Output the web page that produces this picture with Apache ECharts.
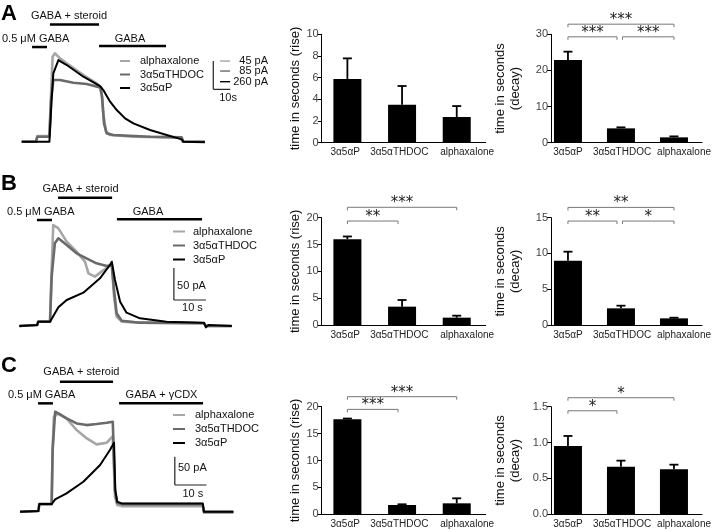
<!DOCTYPE html>
<html><head><meta charset="utf-8">
<script src="https://cdn.jsdelivr.net/npm/echarts@6/dist/echarts.min.js"></script>
<style>html,body{margin:0;padding:0;background:#fff}#c{width:714px;height:530px}</style>
</head><body><div id="c"></div>
<script>
// ---------------- DATA ----------------
const steroids = ['alphaxalone', '3α5αTHDOC', '3α5αP'];        // legend / trace order
const barCats  = ['3α5αP', '3α5αTHDOC', 'alphaxalone'];        // bar chart categories

// Row A (time in seconds)
const riseA      = [5.88, 3.51, 2.37];
const riseAErr   = [1.90, 1.72, 1.01];
const decayA     = [22.9, 3.97, 1.48];
const decayAErr  = [2.3, 0.28, 0.27];
// Row B
const riseB      = [16.0, 3.42, 1.37];
const riseBErr   = [0.5, 1.24, 0.37];
const decayB     = [8.99, 2.33, 0.93];
const decayBErr  = [1.26, 0.37, 0.09];
// Row C
const riseC      = [17.65, 1.73, 2.04];
const riseCErr   = [0.15, 0.13, 0.93];
const decayC     = [0.952, 0.664, 0.627];
const decayCErr  = [0.14, 0.084, 0.065];

// significance comparisons [from, to, label]
const sigRiseA  = [];
const sigDecayA = [[0, 2, '***'], [0, 1, '***'], [1, 2, '***']];
const sigRiseB  = [[0, 2, '***'], [0, 1, '**']];
const sigDecayB = [[0, 2, '**'], [0, 1, '**'], [1, 2, '*']];
const sigRiseC  = [[0, 2, '***'], [0, 1, '***']];
const sigDecayC = [[0, 2, '*'], [0, 1, '*']];

// y tick steps
const riseATicks = 2, decayATicks = 10, riseBTicks = 5, decayBTicks = 5, riseCTicks = 5, decayCTicks = 0.5;

// current traces [time s, current] (A normalised, B/C pA)
const traceA_alpha = [[0,0],[8.4,0],[9.2,17],[16.3,17],[17.1,125],[18.2,255],[19.6,265],[22.5,250],[26.5,235],[36.3,200],[44.1,175],[46.7,163],[48.0,85],[49.6,30],[52.0,20],[65.7,15],[93.1,13],[94.7,0],[107.8,0]];
const traceA_thdoc = [[0,0],[8.4,0],[9.2,15],[16.3,15],[17.3,125],[18.6,185],[22.5,185],[30.4,177],[38.2,173],[46.1,163],[47.3,135],[48.4,55],[50.0,25],[53.9,20],[75.5,15],[94.1,13],[95.1,0],[107.8,0]];
const traceA_p     = [[0,0],[16.3,0],[17.6,125],[18.6,205],[21.6,245],[26.5,230],[36.3,195],[46.1,167],[48.0,155],[52.0,120],[55.9,95],[60.8,70],[65.7,55],[75.5,35],[85.3,20],[94.1,7],[95.1,0],[107.8,-2]];

const traceB_alpha = [[0,0],[5.6,1.6],[5.9,6.8],[9.6,6.8],[10.1,87.5],[10.6,157.8],[12.2,152.6],[14.8,131.8],[17.9,116.1],[20.5,100.5],[21.6,82.3],[23.6,77.1],[25.7,84.9],[27.8,92.7],[28.9,95.3],[29.6,45.8],[30.4,14.6],[32.0,6.8],[37.7,5.2],[57.7,4.2],[58.3,0],[66.4,0]];
const traceB_thdoc = [[0,0],[5.6,1.6],[5.9,6.8],[9.6,6.8],[10.1,77.1],[11.1,129.2],[12.2,137.0],[14.8,126.6],[17.9,113.5],[21.0,105.7],[24.1,97.9],[27.3,93.7],[28.9,95.3],[29.6,56.3],[30.4,19.8],[32.0,8.3],[37.7,5.2],[57.7,4.2],[58.3,0],[66.4,0]];
const traceB_p     = [[0,0],[5.6,1.6],[5.9,6.8],[9.6,6.8],[12.2,29.2],[14.8,40.6],[20.0,52.1],[25.2,74.5],[28.3,95.3],[28.9,100.5],[29.9,71.9],[31.5,38.0],[33.5,20.8],[37.7,12.0],[46.0,6.8],[57.7,5.2],[58.3,-2.1],[59.1,1.6],[66.4,0]];

const traceC_alpha = [[0,0],[5.8,1.2],[6.1,13.5],[10.0,13.5],[10.3,109.0],[10.7,167.9],[12.1,173.8],[14.7,164.9],[17.9,144.3],[21.1,129.6],[24.2,119.0],[27.4,121.9],[29.3,133.7],[30.0,26.5],[30.7,11.8],[32.1,10.0],[57.7,10.0],[58.1,-1.8],[67.4,-1.8]];
const traceC_thdoc = [[0,0],[5.8,1.2],[6.1,13.5],[10.0,13.5],[10.3,109.0],[11.1,176.7],[14.7,164.9],[17.9,156.0],[21.1,153.1],[24.2,154.9],[27.4,157.3],[29.3,159.0],[30.0,38.3],[30.7,15.9],[32.1,13.5],[57.7,13.5],[58.1,0],[67.4,0]];
const traceC_p     = [[0,0],[5.8,1.2],[6.1,13.5],[10.0,13.5],[11.1,21.8],[14.7,32.4],[20.0,53.0],[25.3,82.5],[28.4,109.0],[29.7,121.9],[30.1,38.3],[30.7,17.7],[32.1,14.7],[57.7,14.7],[58.1,0],[67.4,0]];

// drug applications [label, start s, end s]
const appsA = [['0.5 μM GABA', 6.1, 14.9], ['GABA + steroid', 16.6, 45.5], ['GABA', 45.5, 84.9]];
const appsB = [['0.5 μM GABA', 5.5, 10.2], ['GABA + steroid', 12.1, 29.0], ['GABA', 30.5, 57.1]];
const appsC = [['0.5 μM GABA', 5.7, 10.4], ['GABA + steroid', 12.6, 29.4], ['GABA + γCDX', 31.3, 57.8]];
const scaleA = ['45 pA', '85 pA', '260 pA'];

// ---------------- STYLE / LAYOUT ----------------
const FONT = '"Liberation Sans", Arial, sans-serif';
const traceColors = ['#a6a6a6', '#6a6a6a', '#000000'];
const traceWidths = [2.6, 2.6, 2.0];

const grids = [], xAxes = [], yAxes = [], series = [], legends = [];

function addTrace(cfg) {
  const gi = grids.length;
  grids.push({left: cfg.left, top: cfg.top, width: cfg.width, height: cfg.height});
  xAxes.push({type: 'value', gridIndex: gi, min: 0, max: cfg.xMax, show: false});
  yAxes.push({type: 'value', gridIndex: gi, min: cfg.yMin, max: cfg.yMax, show: false});
  cfg.traces.forEach((tr, k) => series.push({
    type: 'line', name: steroids[k], xAxisIndex: gi, yAxisIndex: gi, data: tr,
    showSymbol: false, symbol: 'none', silent: true, z: 2 + k,
    lineStyle: {color: traceColors[k], width: traceWidths[k], join: 'round'}, itemStyle: {color: traceColors[k]}
  }));
  const L = cfg.lay;
  series.push({
    type: 'custom', xAxisIndex: gi, yAxisIndex: gi, silent: true, clip: false, z: 10, data: [[0, 0]],
    renderItem: (params, api) => {
      const ch = [];
      const line = (a, b, color, w) => ch.push({type: 'line', shape: {x1: a[0], y1: a[1], x2: b[0], y2: b[1]}, style: {stroke: color, lineWidth: w}});
      const text = (p, s, al) => ch.push({type: 'text', x: p[0], y: p[1], style: {text: s, font: '11px ' + FONT, fill: '#111', align: al || 'center', verticalAlign: 'middle'}});
      cfg.apps.forEach((a, k) => {
        line(api.coord([a[1], L.appLv[k]]), api.coord([a[2], L.appLv[k]]), '#000', 2.5);
        text(api.coord([L.txt[k][0], L.txt[k][1]]), a[0], L.txt[k][2]);
      });
      // scale bar
      const o = api.coord([L.sb[0], L.sb[1]]);
      const top = api.coord([L.sb[0], L.sb[1] + cfg.sbAmp]);
      const right = api.coord([L.sb[0] + 10, L.sb[1]]);
      line(top, o, '#222', 1.2);
      line(o, right, '#222', 1.2);
      text(api.coord(L.sTxt), cfg.sbTimeLabel);
      if (cfg.ampLabel) text(api.coord(L.aTxt), cfg.ampLabel, 'left');
      if (cfg.multiAmp) {
        cfg.multiAmp.forEach((s, k) => {
          const lv = L.dashLv[k];
          line(api.coord([L.dash[0], lv]), api.coord([L.dash[1], lv]), traceColors[k], 1.4);
          text(api.coord([L.dashTxt, lv]), s, 'right');
        });
      }
      return {type: 'group', children: ch};
    }
  });
  legends.push({
    data: steroids, orient: 'vertical', left: cfg.legLeft, top: cfg.legTop, padding: 0,
    itemWidth: cfg.legW, itemHeight: 2, itemGap: cfg.legGap, icon: 'rect', selectedMode: false,
    textStyle: {fontSize: 11, color: '#111', fontFamily: FONT, padding: [0, 0, 0, cfg.legPad]}
  });
}

function addBars(cfg) {
  const gi = grids.length;
  const pos = i => i + cfg.off;
  grids.push({left: cfg.left, top: cfg.top, width: cfg.width, height: cfg.height});
  xAxes.push({
    type: 'value', gridIndex: gi, min: 0, max: cfg.xMax, splitLine: {show: false},
    axisLine: {show: true, onZero: false, lineStyle: {color: '#000', width: 1}}, axisTick: {show: false},
    axisLabel: {customValues: barCats.map((c, i) => pos(i) + cfg.labShift[i]),
      formatter: v => barCats[Math.round(v - cfg.off)] || '', fontSize: 10, color: '#222', margin: 5, fontFamily: FONT}
  });
  yAxes.push({
    type: 'value', gridIndex: gi, min: 0, max: cfg.yMax, interval: cfg.step, splitLine: {show: false},
    axisLine: {show: true, onZero: false, lineStyle: {color: '#000', width: 1}},
    axisTick: {show: true, length: 4, lineStyle: {color: '#000'}},
    axisLabel: {fontSize: 11, color: '#444', margin: 3, fontFamily: FONT, formatter: cfg.fmt || (v => String(v))},
    name: cfg.name, nameLocation: 'middle', nameGap: cfg.nameGap,
    nameTextStyle: {fontSize: 13, color: '#111', lineHeight: 15, fontFamily: FONT}
  });
  series.push({
    type: 'bar', xAxisIndex: gi, yAxisIndex: gi, barWidth: 28, silent: true,
    data: cfg.vals.map((v, i) => [pos(i), v]), itemStyle: {color: '#000'}
  });
  series.push({
    type: 'custom', xAxisIndex: gi, yAxisIndex: gi, silent: true, z: 3,
    data: cfg.vals.map((v, i) => [pos(i), v, cfg.errs[i]]),
    renderItem: (params, api) => {
      const x = api.value(0), v = api.value(1), e = api.value(2);
      const p0 = api.coord([x, v]), p1 = api.coord([x, v + e]);
      return {type: 'group', children: [
        {type: 'line', shape: {x1: p0[0], y1: p0[1], x2: p1[0], y2: p1[1]}, style: {stroke: '#000', lineWidth: 1.8}},
        {type: 'line', shape: {x1: p1[0] - 4.5, y1: p1[1], x2: p1[0] + 4.5, y2: p1[1]}, style: {stroke: '#000', lineWidth: 1.8}}
      ]};
    }
  });
  if (cfg.sigs.length) series.push({
    type: 'custom', xAxisIndex: gi, yAxisIndex: gi, silent: true, clip: false, z: 4,
    data: cfg.sigs.map(s => [s[0], s[1]]),
    renderItem: (params, api) => {
      const s = cfg.sigs[params.dataIndex], lv = cfg.levels[params.dataIndex];
      const a = api.coord([pos(s[0]), lv]), b = api.coord([pos(s[1]), lv]);
      const x0 = a[0] + (s[0] === 1 ? 1.5 : 0), x1 = b[0] - (s[1] === 1 ? 4 : 0), y = a[1];
      return {type: 'group', children: [
        {type: 'polyline', shape: {points: [[x0, y + 3], [x0, y], [x1, y], [x1, y + 3]]}, style: {stroke: '#777', lineWidth: 1, fill: null}},
        {type: 'text', x: (x0 + x1) / 2, y: y - 4, style: {text: s[2], font: '15px "DejaVu Sans"', fill: '#222', align: 'center', verticalAlign: 'middle'}}
      ]};
    }
  });
}

const riseName = 'time in seconds (rise)', decayName = 'time in seconds\n(decay)';
const riseLay  = {left: 321.7, width: 164, xMax: 3.0, off: 0.47, labShift: [-0.04, -0.05, 0.19], nameGap: 18};
const decayLay = {left: 551, width: 155, xMax: 2.85, off: 0.32, labShift: [0, 0.02, 0.19], nameGap: 28};

// Row A
addTrace({left: 21.7, width: 183.6, xMax: 108, top: 51.7, height: 100, yMin: -30, yMax: 270,
  traces: [traceA_alpha, traceA_thdoc, traceA_p], apps: appsA, sbAmp: 85, sbTimeLabel: '10s', multiAmp: scaleA,
  lay: {appLv: [284, 351.6, 287], txt: [[-11.6, 309.6, 'left'], [27.8, 377], [63.7, 309]],
        sb: [112.7, 157], sTxt: [121.4, 131], dash: [116.7, 122.6], dashLv: [242, 212, 180], dashTxt: [144.9]},
  legLeft: 120, legTop: 55.5, legW: 10, legGap: 2.5, legPad: 5});
addBars(Object.assign({}, riseLay, {top: 34.3, height: 108.4, yMax: 10, step: riseATicks, vals: riseA, errs: riseAErr, sigs: sigRiseA, levels: [], name: riseName}));
addBars(Object.assign({}, decayLay, {top: 34.3, height: 108.4, yMax: 30, step: decayATicks, vals: decayA, errs: decayAErr, sigs: sigDecayA, levels: [32.8, 29.3, 29.3], name: decayName}));

// Row B
addTrace({left: 19.33, width: 214.4, xMax: 67, top: 217.2, height: 115.2, yMin: -10, yMax: 170,
  traces: [traceB_alpha, traceB_thdoc, traceB_p], apps: appsB, sbAmp: 50, sbTimeLabel: '10 s', ampLabel: '50 pA',
  lay: {appLv: [165.6, 200.5, 166.7], txt: [[-3.85, 178, 'left'], [19.1, 214], [40.2, 178]],
        sb: [48.3, 40.6], sTxt: [54.1, 28], aTxt: [49.3, 62.5]},
  legLeft: 173, legTop: 226, legW: 12, legGap: 3, legPad: 3});
addBars(Object.assign({}, riseLay, {top: 217.7, height: 107.3, yMax: 20, step: riseBTicks, vals: riseB, errs: riseBErr, sigs: sigRiseB, levels: [21.94, 19.38], name: riseName}));
addBars(Object.assign({}, decayLay, {top: 217.7, height: 107.3, yMax: 15, step: decayBTicks, vals: decayB, errs: decayBErr, sigs: sigDecayB, levels: [16.44, 14.53, 14.53], name: decayName}));

// Row C
addTrace({left: 20, width: 215.3, xMax: 68, top: 404.2, height: 113.2, yMin: -10, yMax: 190,
  traces: [traceC_alpha, traceC_thdoc, traceC_p], apps: appsC, sbAmp: 50, sbTimeLabel: '10 s', ampLabel: '50 pA',
  lay: {appLv: [191.5, 229.7, 191.5], txt: [[-3.8, 206, 'left'], [19.4, 246.8], [44.7, 206]],
        sb: [48.9, 47.2], sTxt: [54.6, 31.3], aTxt: [49.9, 77.2]},
  legLeft: 173, legTop: 409.5, legW: 12, legGap: 3, legPad: 5});
addBars(Object.assign({}, riseLay, {top: 406.7, height: 107.6, yMax: 20, step: riseCTicks, vals: riseC, errs: riseCErr, sigs: sigRiseC, levels: [21.86, 19.5], name: riseName}));
addBars(Object.assign({}, decayLay, {top: 406.7, height: 107.6, yMax: 1.5, step: decayCTicks, vals: decayC, errs: decayCErr, sigs: sigDecayC, levels: [1.625, 1.443], name: decayName, fmt: v => v.toFixed(1)}));

const panelLetters = ['A', 'B', 'C'];
const chart = echarts.init(document.getElementById('c'), null, {renderer: 'canvas'});
chart.setOption({
  animation: false,
  backgroundColor: '#fff',
  textStyle: {fontFamily: FONT},
  grid: grids, xAxis: xAxes, yAxis: yAxes, series: series, legend: legends,
  graphic: panelLetters.map((s, k) => ({type: 'text', left: 1, top: [3, 173, 355][k],
    style: {text: s, font: 'bold 22px ' + FONT, fill: '#000'}}))
});
</script></body></html>
